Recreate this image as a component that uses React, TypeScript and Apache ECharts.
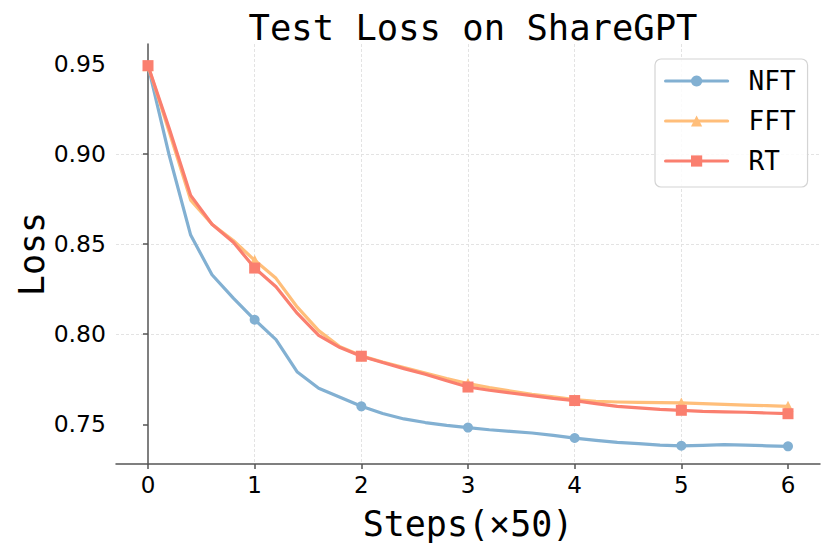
import React, { useEffect, useRef } from "react";
import * as echarts from "echarts";

const steps = [0, 0.2, 0.4, 0.6, 0.8, 1, 1.2, 1.4, 1.6, 1.8, 2, 2.2, 2.4, 2.6, 2.8, 3, 3.2, 3.4, 3.6, 3.8, 4, 4.2, 4.4, 4.6, 4.8, 5, 5.2, 5.4, 5.6, 5.8, 6];

const nft = [0.949, 0.899, 0.855, 0.833, 0.82, 0.808, 0.797, 0.779, 0.77, 0.765, 0.76, 0.756, 0.753, 0.751, 0.7494, 0.7482, 0.747, 0.7461, 0.7452, 0.7439, 0.7424, 0.7411, 0.74, 0.7393, 0.7385, 0.7381, 0.7383, 0.7387, 0.7385, 0.7381, 0.7378];
const fft = [0.949, 0.912, 0.8744, 0.861, 0.852, 0.841, 0.831, 0.815, 0.802, 0.793, 0.788, 0.7846, 0.7815, 0.7785, 0.7754, 0.7726, 0.7704, 0.7685, 0.7667, 0.7652, 0.7637, 0.7628, 0.7624, 0.7622, 0.762, 0.7619, 0.7615, 0.7611, 0.7607, 0.7604, 0.76];
const rt = [0.949, 0.914, 0.877, 0.861, 0.851, 0.8367, 0.8263, 0.8115, 0.7994, 0.7926, 0.7878, 0.7843, 0.7809, 0.7778, 0.7742, 0.7707, 0.7689, 0.7674, 0.7659, 0.7644, 0.7632, 0.7615, 0.76, 0.7591, 0.7583, 0.7578, 0.7572, 0.7569, 0.7567, 0.7563, 0.7559];

const xTicks = [0, 1, 2, 3, 4, 5, 6];
const yTicks = [0.75, 0.8, 0.85, 0.9, 0.95];

const seriesNames = ["NFT", "FFT", "RT"];
const seriesColors = ["#82B0D2", "#FFBE7A", "#FA7F6F"];
const seriesSymbols = ["circle", "triangle", "rect"];
const seriesSizes = [10, 11, 11];

const MONO = "'DejaVu Sans Mono', monospace";
const SANS = "'DejaVu Sans', sans-serif";
const SPINE = "#555";

export default function App() {
  const ref = useRef<HTMLDivElement>(null);

  useEffect(() => {
    document.body.style.margin = "0";
    const chart = echarts.init(ref.current!, null, { renderer: "svg" });
    const allData = [nft, fft, rt];
    const series = allData.map((vals, i) => ({
      name: seriesNames[i],
      type: "line",
      data: steps.map((s, j) => [s, vals[j]]),
      symbol: seriesSymbols[i],
      symbolSize: (v: number[]) =>
        Math.abs(v[0] - Math.round(v[0])) < 1e-6 ? seriesSizes[i] : 0,
      showAllSymbol: true,
      lineStyle: { color: seriesColors[i], width: 3.2, join: "round", cap: "round" },
      itemStyle: { color: seriesColors[i], borderWidth: 0 },
      z: 2 + i,
    }));

    chart.setOption({
      animation: false,
      backgroundColor: "#fff",
      title: {
        text: "Test Loss on ShareGPT",
        left: 468,
        top: 4,
        textAlign: "center",
        textStyle: { fontFamily: MONO, fontSize: 35.5, fontWeight: "normal", color: "#000" },
      },
      grid: { left: 116, top: 44, width: 704, height: 420, containLabel: false },
      legend: {
        left: 655,
        top: 59,
        orient: "vertical",
        itemWidth: 62,
        itemHeight: 14,
        itemGap: 14,
        padding: [9, 12, 13, 9],
        borderColor: "#d4d4d4",
        borderWidth: 1.2,
        borderRadius: 6,
        backgroundColor: "rgba(255,255,255,0.85)",
        lineStyle: { width: 3.2 },
        textStyle: {
          fontFamily: MONO,
          fontSize: 26,
          lineHeight: 26,
          color: "#000",
          padding: [0, 0, 0, 16],
        },
        data: seriesNames,
      },
      xAxis: {
        type: "value",
        min: -0.3,
        max: 6.3,
        axisLine: { show: true, lineStyle: { color: SPINE, width: 1.5 } },
        axisTick: { show: true, length: 5, customValues: xTicks, lineStyle: { color: SPINE, width: 1.5 } },
        axisLabel: {
          customValues: xTicks,
          fontFamily: SANS,
          fontSize: 23,
          color: "#000",
          margin: 9,
        },
        splitLine: {
          show: true,
          showMinLine: false,
          showMaxLine: false,
          lineStyle: { color: "#e0e0e0", type: [3, 2], width: 0.9 },
        },
      },
      yAxis: {
        type: "value",
        min: 0.728,
        max: 0.961,
        axisLine: { show: true, lineStyle: { color: SPINE, width: 1.5 } },
        axisTick: { show: true, length: 5, customValues: yTicks, lineStyle: { color: SPINE, width: 1.5 } },
        axisLabel: {
          customValues: yTicks,
          fontFamily: SANS,
          fontSize: 23.5,
          color: "#000",
          margin: 10,
          formatter: (v: number) => v.toFixed(2),
        },
        splitLine: {
          show: true,
          showMinLine: false,
          showMaxLine: false,
          lineStyle: { color: "#e0e0e0", type: [3, 2], width: 0.9 },
        },
      },
      graphic: [
        {
          type: "text",
          x: 32,
          y: 254,
          rotation: Math.PI / 2,
          style: {
            text: "Loss",
            font: `35px ${MONO}`,
            fill: "#000",
            align: "center",
            verticalAlign: "middle",
          },
        },
        {
          type: "text",
          x: 468,
          y: 524,
          style: {
            text: "Steps(×50)",
            font: `35px ${MONO}`,
            fill: "#000",
            align: "center",
            verticalAlign: "middle",
          },
        },
      ],
      series,
    });
    return () => chart.dispose();
  }, []);

  return <div ref={ref} style={{ width: 830, height: 554 }} />;
}
